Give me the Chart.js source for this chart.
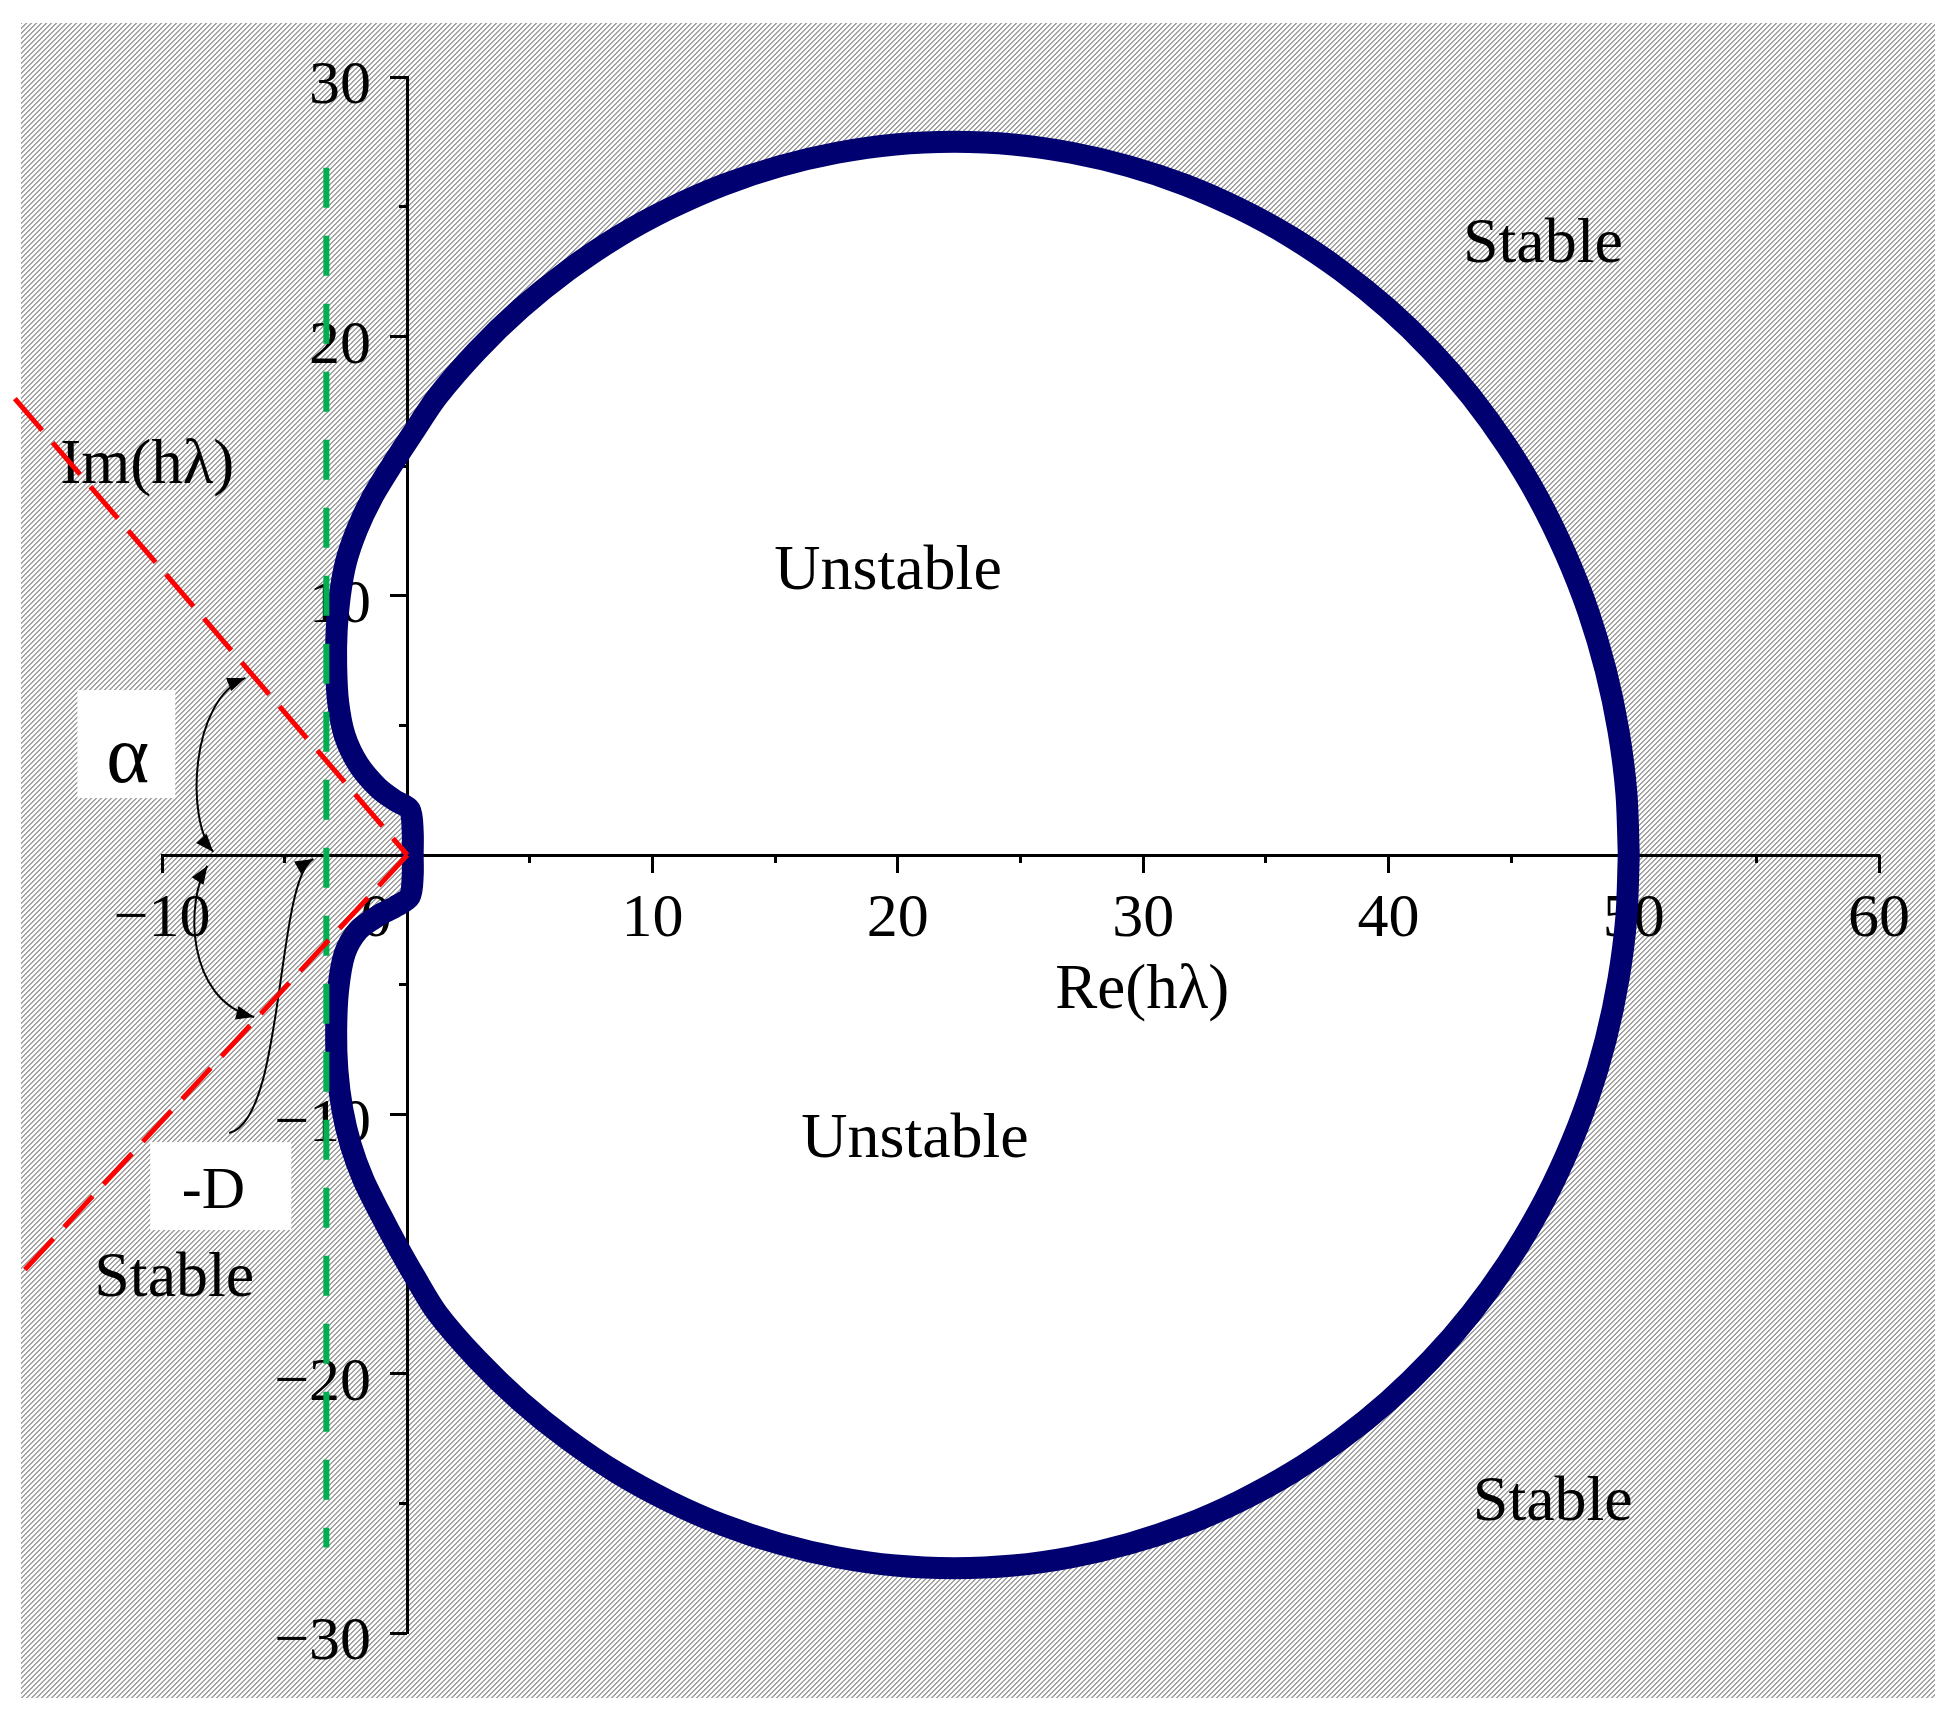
<!DOCTYPE html>
<html><head><meta charset="utf-8">
<script src="https://cdn.jsdelivr.net/npm/chart.js@4.4.1/dist/chart.umd.min.js"></script>
<style>
html,body{margin:0;padding:0;background:#fff;}
#wrap{position:relative;width:1951px;height:1722px;overflow:hidden;}
#hatch{position:absolute;left:21px;top:23px;width:1914px;height:1675px;
 background:repeating-linear-gradient(135deg,#a4a4a4 0px,#a4a4a4 0.8px,#ffffff 1.5px,#ffffff 2.9px,#a4a4a4 3.5355px);}
canvas{position:absolute;left:0;top:0;}
</style></head><body>
<div id="wrap"><div id="hatch"></div><canvas id="c" width="1951" height="1722"></canvas></div>
<script>
// ---- data ----
const boundaryX = [
  49.80, 49.70, 49.38, 48.86, 48.14, 47.22, 46.12, 44.83, 43.37, 41.75, 39.98, 38.07, 36.05, 33.92, 31.71, 29.42,
  27.08, 24.70, 22.30, 19.90, 17.52, 15.18, 12.89, 10.68, 8.55, 6.53, 4.62, 2.85, 1.23, 0.25,
  -0.65, -1.45, -2.05, -2.50, -2.75, -2.88, -2.90, -2.82, -2.55, -2.00, -1.20, -0.50, 0.10, 0.22, 0.22,
  0.22, 0.10, -0.50, -1.20, -2.00, -2.55, -2.82, -2.90, -2.85, -2.65, -2.30, -1.80, -1.15, -0.45, 0.30,
  1.23, 2.85, 4.62, 6.53, 8.55, 10.68, 12.89, 15.18, 17.52, 19.90, 22.30, 24.70, 27.08, 29.42, 31.71,
  33.92, 36.05, 38.07, 39.98, 41.75, 43.37, 44.83, 46.12, 47.22, 48.14, 48.86, 49.38, 49.70, 49.80];
const boundaryY = [
  0.00, 2.40, 4.78, 7.12, 9.41, 11.62, 13.75, 15.77, 17.68, 19.45, 21.07, 22.53, 23.82, 24.92, 25.84, 26.56,
  27.08, 27.40, 27.50, 27.40, 27.08, 26.56, 25.84, 24.92, 23.82, 22.53, 21.07, 19.45, 17.68, 16.30,
  15.00, 13.75, 12.55, 11.30, 10.00, 8.65, 7.30, 5.90, 4.60, 3.50, 2.60, 2.10, 1.75, 0.90, 0.00,
  -0.80, -1.60, -2.00, -2.35, -2.90, -3.80, -5.20, -6.80, -8.30, -9.80, -11.20, -12.50, -13.75, -15.00, -16.25,
  -17.68, -19.45, -21.07, -22.53, -23.82, -24.92, -25.84, -26.56, -27.08, -27.40, -27.50, -27.40, -27.08, -26.56, -25.84,
  -24.92, -23.82, -22.53, -21.07, -19.45, -17.68, -15.77, -13.75, -11.62, -9.41, -7.12, -4.78, -2.40, 0.00];
const greenX = [-3.3, -3.3];
const greenY = [26.5, -26.7];
const redUpperX = [-16.0, 0.0];
const redUpperY = [17.6, 0.0];
const redLowerX = [0.0, -15.7];
const redLowerY = [0.0, -16.1];

const xTickValues = [-10, 0, 10, 20, 30, 40, 50, 60];
const xTickLabels = ['\u221210', '0\u2003', '10', '20', '30', '40', '50', '60'];
const yTickValues = [-30, -20, -10, 10, 20, 30];
const yTickLabels = ['\u221230', '\u221220', '\u221210', '10', '20', '30'];

const noteTexts = ['Unstable', 'Unstable', 'Stable', 'Stable', 'Stable', 'Im(h\u03bb)', 'Re(h\u03bb)', '\u03b1', '-D'];
const noteX = [19.6, 20.7, 46.3, 46.7, -9.5, -10.6, 29.96, -11.4, -7.9];
const noteY = [10.9, -11.0, 23.5, -25.0, -16.35, 15.0, -5.25, 3.66, -13.0];
const noteSize = [64, 64, 64, 64, 64, 63, 63, 82, 60];

// white label boxes [x0, x1, y0, y1]
const boxAlpha = [-13.45, -9.46, 6.36, 2.20];
const boxD = [-10.48, -4.73, -11.07, -14.46];

// arrows: cubic curves P0, C1, C2, P3 (data coords); heads at start/end
const arrowPts = [
  [[-6.60, 6.83], [-8.85, 5.98], [-9.05, 1.35], [-7.91, 0.12]],
  [[-8.15, -0.42], [-9.05, -1.74], [-9.05, -5.59], [-6.24, -6.25]],
  [[-7.26, -10.72], [-4.97, -10.22], [-5.38, -0.96], [-3.83, -0.15]]
];
const arrowHeadStart = [true, true, false];
const arrowHeadEnd = [true, true, true];

const toXY = (xs, ys) => xs.map((x, i) => ({x: x, y: ys[i]}));
const serif = "'Liberation Serif', 'Times New Roman', serif";
const yPad = '\u2002\u200a';

const annotations = {
  id: 'annotations',
  beforeDatasetsDraw(chart) {
    const ctx = chart.ctx, sx = chart.scales.x, sy = chart.scales.y;
    const px = v => sx.getPixelForValue(v), py = v => sy.getPixelForValue(v);
    ctx.save();
    ctx.fillStyle = '#ffffff';
    [boxAlpha, boxD].forEach(b => {
      ctx.fillRect(px(b[0]), py(b[2]), px(b[1]) - px(b[0]), py(b[3]) - py(b[2]));
    });
    ctx.fillStyle = '#000';
    ctx.textAlign = 'center';
    ctx.textBaseline = 'middle';
    noteTexts.forEach((t, i) => {
      ctx.font = noteSize[i] + 'px ' + serif;
      ctx.fillText(t, px(noteX[i]), py(noteY[i]));
    });
    ctx.strokeStyle = '#000';
    ctx.lineWidth = 2;
    const head = (tip, from) => {
      const ang = Math.atan2(tip[1] - from[1], tip[0] - from[0]);
      const L = 18, W = 7;
      ctx.beginPath();
      ctx.moveTo(tip[0], tip[1]);
      ctx.lineTo(tip[0] - L * Math.cos(ang) + W * Math.sin(ang), tip[1] - L * Math.sin(ang) - W * Math.cos(ang));
      ctx.lineTo(tip[0] - L * Math.cos(ang) - W * Math.sin(ang), tip[1] - L * Math.sin(ang) + W * Math.cos(ang));
      ctx.closePath();
      ctx.fill();
    };
    arrowPts.forEach((a, i) => {
      const p = a.map(q => [px(q[0]), py(q[1])]);
      ctx.beginPath();
      ctx.moveTo(p[0][0], p[0][1]);
      ctx.bezierCurveTo(p[1][0], p[1][1], p[2][0], p[2][1], p[3][0], p[3][1]);
      ctx.stroke();
      if (arrowHeadEnd[i]) head(p[3], p[2]);
      if (arrowHeadStart[i]) head(p[0], p[1]);
    });
    ctx.restore();
  }
};

const tickFont = {family: serif, size: 62};
new Chart(document.getElementById('c'), {
  type: 'line',
  data: {
    datasets: [
      {data: toXY(boundaryX, boundaryY), borderColor: '#000070', backgroundColor: '#ffffff',
       borderWidth: 22, fill: 'shape', tension: 0.3, pointRadius: 0, order: 3,
       borderJoinStyle: 'round', borderCapStyle: 'round'},
      {data: toXY(greenX, greenY), borderColor: '#00b050', borderWidth: 6, borderDash: [40, 28],
       fill: false, pointRadius: 0, order: 2},
      {data: toXY(redUpperX, redUpperY), borderColor: '#ff0000', borderWidth: 5, borderDash: [42, 16],
       fill: false, pointRadius: 0, order: 1, clip: false},
      {data: toXY(redLowerX, redLowerY), borderColor: '#ff0000', borderWidth: 5, borderDash: [42, 16],
       fill: false, pointRadius: 0, order: 1, clip: false}
    ]
  },
  options: {
    responsive: false,
    animation: false,
    devicePixelRatio: 1,
    events: [],
    layout: {padding: {left: 162, right: 72, top: 77, bottom: 89}},
    plugins: {legend: {display: false}, tooltip: {enabled: false}, filler: {drawTime: 'beforeDraw'}},
    scales: {
      x: {type: 'linear', min: -10, max: 60, position: {y: 0},
          afterFit: s => { s.height = 0; },
          border: {display: true, color: '#000', width: 3},
          grid: {drawOnChartArea: false, drawTicks: true, tickLength: 16, tickWidth: 3, tickColor: '#000'},
          ticks: {stepSize: 10, font: tickFont, color: '#000', padding: 12, maxRotation: 0, autoSkip: false,
                  callback: v => { const i = xTickValues.indexOf(v); return i < 0 ? '' : xTickLabels[i]; }}},
      x2: {type: 'linear', axis: 'x', min: -10, max: 60, position: {y: 0},
          afterFit: s => { s.height = 0; },
          border: {display: false},
          grid: {drawOnChartArea: false, drawTicks: true, tickLength: 8, tickWidth: 3, tickColor: '#000'},
          ticks: {stepSize: 5, display: false}},
      y: {type: 'linear', min: -30, max: 30, position: {x: 0},
          afterFit: s => { s.width = 0; },
          border: {display: true, color: '#000', width: 3},
          grid: {drawOnChartArea: false, drawTicks: true, tickLength: 16, tickWidth: 3, tickColor: '#000'},
          ticks: {stepSize: 10, font: tickFont, color: '#000', padding: 20, labelOffset: 10, autoSkip: false,
                  callback: v => { const i = yTickValues.indexOf(v); return i < 0 ? '' : yTickLabels[i] + yPad; }}},
      y2: {type: 'linear', axis: 'y', min: -30, max: 30, position: {x: 0},
          afterFit: s => { s.width = 0; },
          border: {display: false},
          grid: {drawOnChartArea: false, drawTicks: true, tickLength: 8, tickWidth: 3, tickColor: '#000'},
          ticks: {stepSize: 5, display: false}}
    }
  },
  plugins: [annotations]
});
</script>
</body></html>
